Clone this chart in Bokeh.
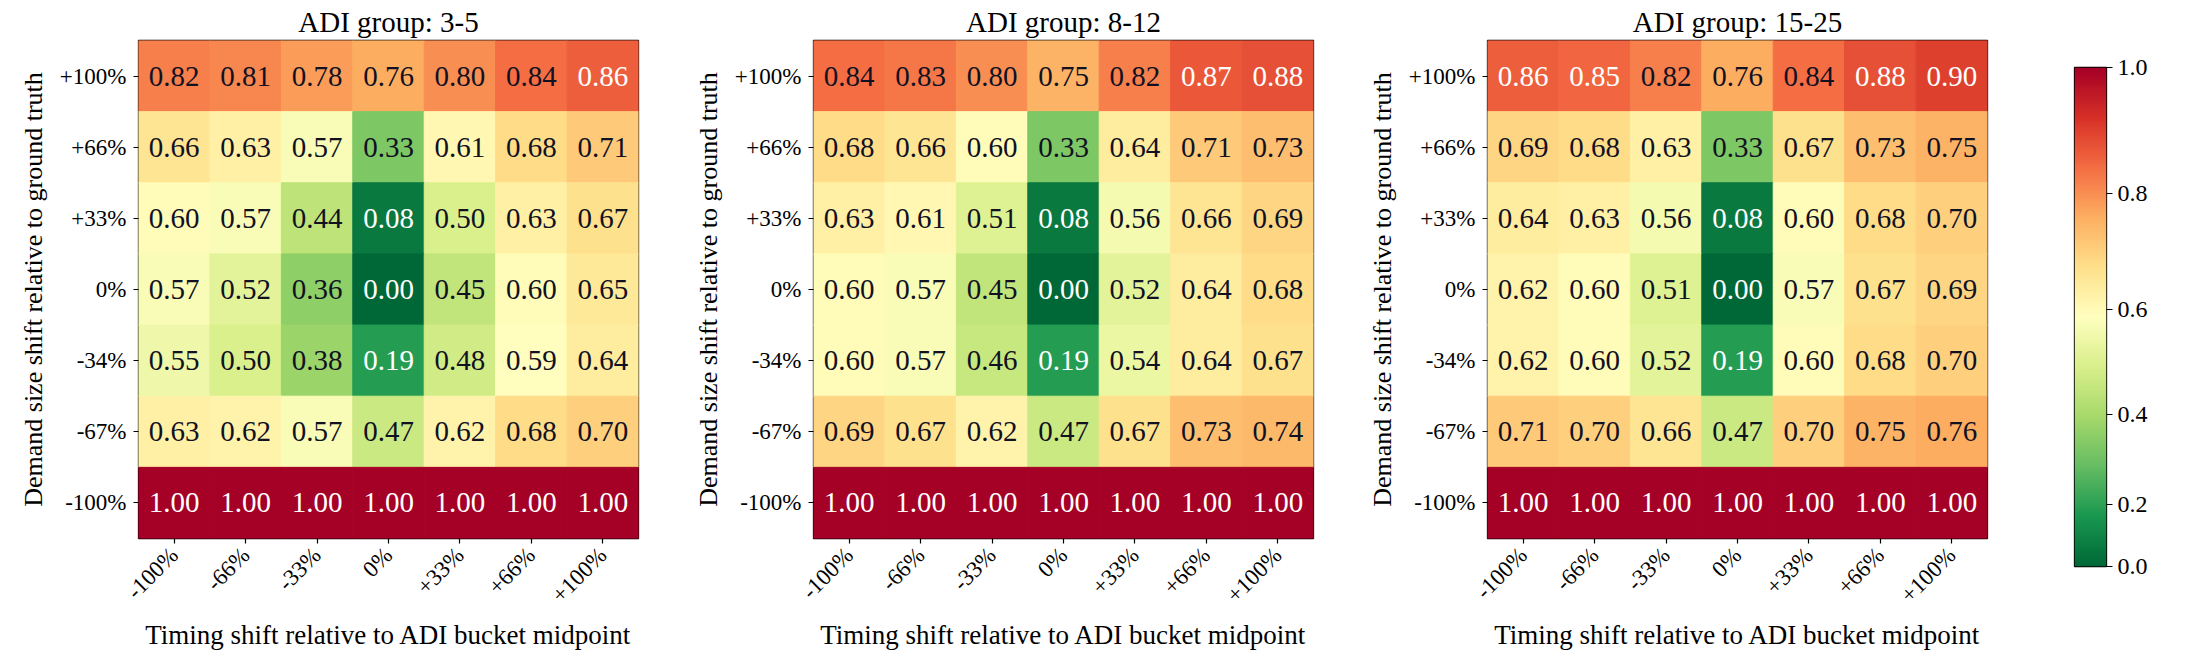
import math
import numpy as np
from bokeh.plotting import figure
from bokeh.layouts import row
from bokeh.models import ColumnDataSource, FactorRange, LinearColorMapper, FixedTicker, Range1d
from bokeh.transform import linear_cmap
from bokeh.core.properties import value
from bokeh.embed import file_html
from bokeh.resources import INLINE

# Axis categories
timing_labels = ["-100%", "-66%", "-33%", "0%", "+33%", "+66%", "+100%"]
demand_labels = ["+100%", "+66%", "+33%", "0%", "-34%", "-67%", "-100%"]  # top row first

group_titles = ["ADI group: 3-5", "ADI group: 8-12", "ADI group: 15-25"]

# Error ratios, one row per demand-size shift (top to bottom), one column per timing shift
adi_3_5 = [
    [0.82, 0.81, 0.78, 0.76, 0.80, 0.84, 0.86],
    [0.66, 0.63, 0.57, 0.33, 0.61, 0.68, 0.71],
    [0.60, 0.57, 0.44, 0.08, 0.50, 0.63, 0.67],
    [0.57, 0.52, 0.36, 0.00, 0.45, 0.60, 0.65],
    [0.55, 0.50, 0.38, 0.19, 0.48, 0.59, 0.64],
    [0.63, 0.62, 0.57, 0.47, 0.62, 0.68, 0.70],
    [1.00, 1.00, 1.00, 1.00, 1.00, 1.00, 1.00],
]
adi_8_12 = [
    [0.84, 0.83, 0.80, 0.75, 0.82, 0.87, 0.88],
    [0.68, 0.66, 0.60, 0.33, 0.64, 0.71, 0.73],
    [0.63, 0.61, 0.51, 0.08, 0.56, 0.66, 0.69],
    [0.60, 0.57, 0.45, 0.00, 0.52, 0.64, 0.68],
    [0.60, 0.57, 0.46, 0.19, 0.54, 0.64, 0.67],
    [0.69, 0.67, 0.62, 0.47, 0.67, 0.73, 0.74],
    [1.00, 1.00, 1.00, 1.00, 1.00, 1.00, 1.00],
]
adi_15_25 = [
    [0.86, 0.85, 0.82, 0.76, 0.84, 0.88, 0.90],
    [0.69, 0.68, 0.63, 0.33, 0.67, 0.73, 0.75],
    [0.64, 0.63, 0.56, 0.08, 0.60, 0.68, 0.70],
    [0.62, 0.60, 0.51, 0.00, 0.57, 0.67, 0.69],
    [0.62, 0.60, 0.52, 0.19, 0.60, 0.68, 0.70],
    [0.71, 0.70, 0.66, 0.47, 0.70, 0.75, 0.76],
    [1.00, 1.00, 1.00, 1.00, 1.00, 1.00, 1.00],
]

colorbar_ticks = [0.0, 0.2, 0.4, 0.6, 0.8, 1.0]

GAMMA = 1.3  # power-law colour normalisation
FONT = "Liberation Serif"

# Reversed red-yellow-green colormap, interpolated to 256 steps
anchors = ["#006837", "#1a9850", "#66bd63", "#a6d96a", "#d9ef8b", "#ffffbf",
           "#fee08b", "#fdae61", "#f46d43", "#d73027", "#a50026"]
anchor_rgb = np.array([[int(h[i:i + 2], 16) for i in (1, 3, 5)] for h in anchors], dtype=float)
palette = []
for t in np.linspace(0, 1, 256):
    pos = t * (len(anchors) - 1)
    i = min(int(pos), len(anchors) - 2)
    f = pos - i
    c = anchor_rgb[i] * (1 - f) + anchor_rgb[i + 1] * f
    palette.append("#%02x%02x%02x" % tuple(int(round(v)) for v in c))


def heatmap(title, grid, width, border_left, border_right):
    xs, ys, vals, norms, labels, tcolors = [], [], [], [], [], []
    for r, demand in enumerate(demand_labels):
        for c, timing in enumerate(timing_labels):
            v = grid[r][c]
            xs.append(timing)
            ys.append(demand)
            vals.append(v)
            norms.append(v ** GAMMA)
            labels.append(f"{v:.2f}")
            tcolors.append("white" if (v >= 0.85 or v < 0.25) else "#111122")
    src = ColumnDataSource(dict(x=xs, y=ys, v=vals, norm=norms, label=labels, tcolor=tcolors))

    p = figure(width=width, height=664,
               x_range=FactorRange(*timing_labels),
               y_range=FactorRange(*demand_labels[::-1]),
               output_backend="svg", toolbar_location=None,
               min_border_left=border_left, min_border_right=border_right,
               min_border_top=40, min_border_bottom=126,
               title=title)
    cmap = linear_cmap("norm", palette, 0, 1)
    p.rect(x="x", y="y", width=1, height=1, source=src,
           fill_color=cmap, line_color=cmap, line_width=1)
    p.text(x="x", y="y", text="label", source=src, text_color="tcolor",
           text_font=value(FONT), text_font_size="29px",
           text_align="center", text_baseline="middle")

    p.title.text_font = FONT
    p.title.text_font_size = "29px"
    p.title.text_font_style = "normal"
    p.title.align = "center"
    p.title.standoff = 5
    p.title.text_color = "black"

    p.grid.visible = False
    p.outline_line_color = "black"
    p.outline_line_width = 1.3
    p.outline_line_alpha = 1.0

    for ax in (p.xaxis, p.yaxis):
        ax.axis_line_color = None
        ax.major_tick_in = 0
        ax.major_tick_out = 5
        ax.major_tick_line_color = "black"
        ax.major_tick_line_width = 1.2
        ax.minor_tick_line_color = None
        ax.major_label_text_font = FONT
        ax.major_label_text_font_size = "23px"
        ax.major_label_text_color = "black"
        ax.axis_label_text_font = FONT
        ax.axis_label_text_font_style = "normal"
        ax.axis_label_text_color = "black"

    p.xaxis.axis_label = "Timing shift relative to ADI bucket midpoint"
    p.xaxis.axis_label_text_font_size = "27px"
    p.xaxis.major_label_orientation = math.pi / 4
    p.xaxis.major_label_standoff = 8
    p.xaxis.axis_label_standoff = 1
    p.yaxis.axis_label = "Demand size shift relative to ground truth"
    p.yaxis.axis_label_text_font_size = "26px"
    p.yaxis.major_label_standoff = 7
    p.yaxis.axis_label_standoff = 9
    return p


p1 = heatmap(group_titles[0], adi_3_5, 670, 138, 32)
p2 = heatmap(group_titles[1], adi_8_12, 675, 143, 32)
p3 = heatmap(group_titles[2], adi_15_25, 685, 142, 43)

# Colour bar: gradient laid out in normalised space, labelled in data units
cb = figure(width=167, height=664, x_range=Range1d(0, 1), y_range=Range1d(0, 1),
            x_axis_location=None, y_axis_location="right",
            output_backend="svg", toolbar_location=None,
            min_border_left=44, min_border_right=91,
            min_border_top=67, min_border_bottom=98)
gradient = np.linspace(0, 1, 256).reshape(256, 1)
cb.image(image=[gradient], x=0, y=0, dw=1, dh=1,
         color_mapper=LinearColorMapper(palette=palette, low=0, high=1))
tick_pos = [v ** GAMMA for v in colorbar_ticks]
cb.yaxis.ticker = FixedTicker(ticks=tick_pos)
cb.yaxis.major_label_overrides = {pos: f"{v:.1f}" for pos, v in zip(tick_pos, colorbar_ticks)}
cb.yaxis.axis_line_color = None
cb.yaxis.major_tick_in = 0
cb.yaxis.major_tick_out = 6
cb.yaxis.major_tick_line_color = "black"
cb.yaxis.major_tick_line_width = 1.2
cb.yaxis.minor_tick_line_color = None
cb.yaxis.major_label_text_font = FONT
cb.yaxis.major_label_text_font_size = "24px"
cb.yaxis.major_label_text_color = "black"
cb.yaxis.major_label_standoff = 5
cb.grid.visible = False
cb.outline_line_color = "black"
cb.outline_line_width = 1.3
cb.outline_line_alpha = 1.0

# Heatmaps share one row; the colour bar sits beside it with its own borders
layout = row(row(p1, p2, p3), cb)
open("out.html", "w").write(file_html(layout, INLINE))
